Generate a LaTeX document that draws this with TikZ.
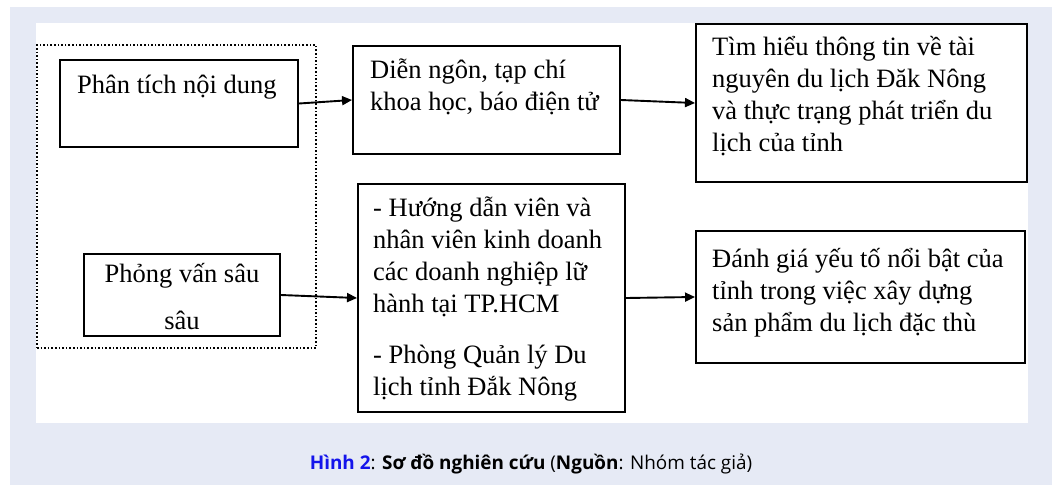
\documentclass[tikz,border=0pt]{standalone}
\usepackage{fontspec}
\setmainfont{Liberation Serif}
\newfontfamily\capfont{Open Sans}
\usetikzlibrary{arrows.meta}
\definecolor{pagebg}{RGB}{230,234,245}
\definecolor{capblue}{RGB}{20,20,235}
\newcommand\mytopstrut{\rule{0pt}{30pt}}
\begin{document}
\begin{tikzpicture}[x=1pt,y=-1pt,
  boxnode/.style={draw=black, line width=1.9pt, fill=white, inner sep=0pt},
  txt/.style={inner sep=0pt, anchor=north west, align=left,
    font=\fontsize{26.5}{32}\selectfont},
  conn/.style={line width=1.9pt, -{Triangle[length=10pt,width=9pt]}},
  groupbox/.style={draw=black, line width=1.6pt, dotted, inner sep=0pt}]
\useasboundingbox (0,0) rectangle (1058,485);
\fill[white] (0,0) rectangle (1058,485);
\fill[pagebg] (10,7) rectangle (1052,485);
\fill[white] (36,23) rectangle (1028,423);

% dotted group
\node[groupbox, minimum width=279pt, minimum height=303pt] (grp) at (176.5,196.5) {};

% boxes
\node[boxnode, minimum width=238pt, minimum height=87pt] (pt) at (179,103.5) {};
\node[boxnode, minimum width=196pt, minimum height=82pt] (pv) at (182,295) {};
\node[boxnode, minimum width=267pt, minimum height=108pt] (dn) at (486.5,100) {};
\node[boxnode, minimum width=267pt, minimum height=228pt] (hd) at (491.5,298) {};
\node[boxnode, minimum width=331pt, minimum height=158pt] (th) at (861.5,103) {};
\node[boxnode, minimum width=329pt, minimum height=132pt] (dg) at (860.5,297) {};

% texts
\node[txt] (ptT) at (77,63) {\mytopstrut Phân tích nội dung};
\node[txt, anchor=north, align=center] (pvT) at (182,252) {\mytopstrut Phỏng vấn sâu\\[15pt] sâu};
\node[txt] (dnT) at (370,48) {\mytopstrut Diễn ngôn, tạp chí\\ khoa học, báo điện tử};
\node[txt] (hdT) at (373,186) {\mytopstrut - Hướng dẫn viên và\\ nhân viên kinh doanh\\ các doanh nghiệp lữ\\ hành tại TP.HCM\\[19pt] - Phòng Quản lý Du\\ lịch tỉnh Đắk Nông};
\node[txt] (thT) at (712,25) {\mytopstrut Tìm hiểu thông tin về tài\\ nguyên du lịch Đăk Nông\\ và thực trạng phát triển du\\ lịch của tỉnh};
\node[txt] (dgT) at (712,237) {\mytopstrut Đánh giá yếu tố nổi bật của\\ tỉnh trong việc xây dựng\\ sản phẩm du lịch đặc thù};

% connectors
\draw[conn] (pt.east) -- (dn.west);
\draw[conn] (dn.east) -- (th.west);
\draw[conn] (pv.east) -- (hd.west);
\draw[conn] (hd.east) -- (dg.west);

% caption
\node[anchor=base, inner sep=0pt, font=\capfont\fontsize{18.9}{22}\selectfont] (cap) at (531,469)
  {\textcolor{capblue}{\bfseries Hình 2}: {\bfseries Sơ đồ nghiên cứu} ({\bfseries Nguồn}: Nhóm tác giả)};
\end{tikzpicture}
\end{document}
